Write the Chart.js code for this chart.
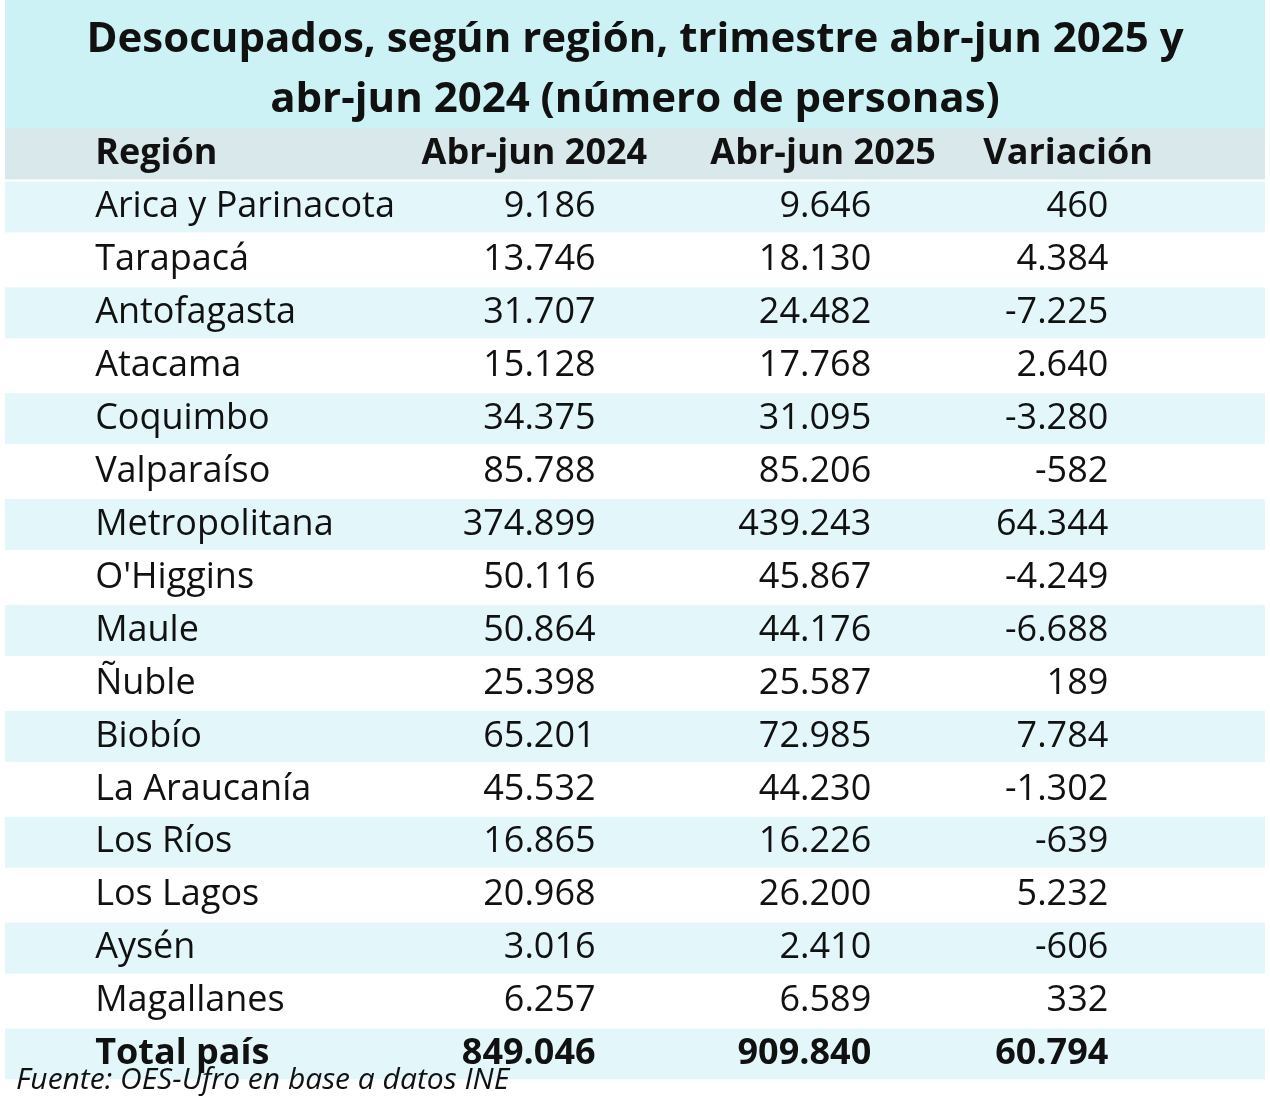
<!DOCTYPE html>
<html><head><meta charset="utf-8">
<script src="https://cdn.jsdelivr.net/npm/chart.js@4"></script>
<style>html,body{margin:0;background:#fff}#wrap{width:1270px;height:1102px}</style>
</head><body><div id="wrap"><canvas id="t"></canvas></div>
<script>
const titleLines = ['Desocupados, según región, trimestre abr-jun 2025 y', 'abr-jun 2024 (número de personas)'];
const headers = ['Región', 'Abr-jun 2024', 'Abr-jun 2025', 'Variación'];
const regions = ['Arica y Parinacota','Tarapacá','Antofagasta','Atacama','Coquimbo','Valparaíso','Metropolitana',"O'Higgins",'Maule','Ñuble','Biobío','La Araucanía','Los Ríos','Los Lagos','Aysén','Magallanes','Total país'];
const y2024 = ['9.186','13.746','31.707','15.128','34.375','85.788','374.899','50.116','50.864','25.398','65.201','45.532','16.865','20.968','3.016','6.257','849.046'];
const y2025 = ['9.646','18.130','24.482','17.768','31.095','85.206','439.243','45.867','44.176','25.587','72.985','44.230','16.226','26.200','2.410','6.589','909.840'];
const variacion = ['460','4.384','-7.225','2.640','-3.280','-582','64.344','-4.249','-6.688','189','7.784','-1.302','-639','5.232','-606','332','60.794'];
const source = 'Fuente: OES-Ufro en base a datos INE';

const rows = ['header', ...regions];
const FONT = '"Open Sans", sans-serif';

const tablePlugin = {
  id: 'table',
  beforeDraw(chart) {
    const { ctx, scales: { x, y }, chartArea: a } = chart;
    // map scale fractions onto the table box
    const X = (v) => 5 + (x.getPixelForValue(v) - a.left) / (a.right - a.left) * 1260;
    const Y = (i) => 154 + (y.getPixelForValue(i) - a.top) / (a.bottom - a.top) * 900;
    const h = Y(1) - Y(0);
    ctx.save();
    ctx.fillStyle = '#fff';
    ctx.fillRect(0, 0, chart.width, chart.height);
    ctx.fillStyle = '#cdf2f6';
    ctx.fillRect(5, 0, 1260, 146);
    ctx.fillStyle = '#111';
    ctx.font = `bold 42px ${FONT}`;
    ctx.textAlign = 'center';
    ctx.textBaseline = 'middle';
    ctx.fillText(titleLines[0], 635, 40);
    ctx.fillText(titleLines[1], 635, 100);
    rows.forEach((r, i) => {
      const cy = Y(i);
      let bg = null;
      if (i === 0) bg = '#d9e8ea';
      else if (i % 2 === 1) bg = '#e3f7fa';
      if (bg) { ctx.fillStyle = bg; ctx.fillRect(5, cy - h / 2 + 1, 1260, h - 2); }
    });
    ctx.fillStyle = '#111';
    ctx.font = `bold 36px ${FONT}`;
    let cy = Y(0);
    ctx.textAlign = 'left'; ctx.fillText(headers[0], X(18), cy);
    ctx.textAlign = 'center';
    ctx.fillText(headers[1], X(520), cy);
    ctx.fillText(headers[2], X(850), cy);
    ctx.fillText(headers[3], X(1130), cy);
    regions.forEach((r, i) => {
      const last = i === regions.length - 1;
      ctx.font = `${last ? 'bold ' : ''}36px ${FONT}`;
      const yy = Y(i + 1);
      ctx.textAlign = 'left'; ctx.fillText(r, X(18), yy);
      ctx.textAlign = 'right';
      ctx.fillText(y2024[i], X(590), yy);
      ctx.fillText(y2025[i], X(905), yy);
      ctx.fillText(variacion[i], X(1176), yy);
    });
    ctx.font = `italic 30px ${FONT}`;
    ctx.textAlign = 'left';
    ctx.fillText(source, 16, 1080);
    ctx.restore();
  }
};

new Chart(document.getElementById('t'), {
  type: 'bar',
  data: { labels: rows, datasets: [{ data: [] }] },
  options: {
    responsive: true, maintainAspectRatio: false, animation: false,
    plugins: { legend: { display: false }, tooltip: { enabled: false } },
    scales: {
      x: { type: 'linear', min: 5, max: 1265, display: false },
      y: { type: 'category', display: false }
    }
  },
  plugins: [tablePlugin]
});
</script></body></html>
